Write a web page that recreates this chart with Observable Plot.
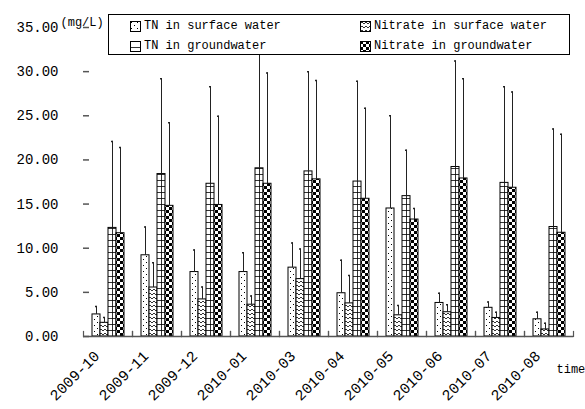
<!DOCTYPE html>
<html><head><meta charset="utf-8">
<script src="https://cdn.jsdelivr.net/npm/d3@7"></script>
<script src="https://cdn.jsdelivr.net/npm/@observablehq/plot@0.6"></script>
<style>
body{margin:0;background:#fff;}
#wrap{position:relative;width:585px;height:409px;font-family:"Liberation Mono",monospace;}
#legend{position:absolute;left:108px;top:14px;width:460px;height:39px;border:1px solid #000;background:#fff;font-size:12px;color:#000;}
#legend .item{position:absolute;display:flex;align-items:center;height:14px;}
#legend .item svg{margin-right:3px;}
</style></head><body>
<svg width="0" height="0" style="position:absolute">
 <defs>
  <pattern id="p0" width="6" height="6" patternUnits="userSpaceOnUse">
   <rect width="6" height="6" fill="#fff"/>
   <rect x="1" y="1" width="1" height="1" fill="#000"/>
   <rect x="4" y="4" width="1" height="1" fill="#000"/>
  </pattern>
  <pattern id="p1" width="4" height="4" patternUnits="userSpaceOnUse">
   <rect width="4" height="4" fill="#fff"/>
   <path d="M0,3 L2,1 L4,3" fill="none" stroke="#000" stroke-width="0.8"/>
  </pattern>
  <pattern id="p2" width="9" height="6" patternUnits="userSpaceOnUse">
   <rect width="9" height="6" fill="#fff"/>
   <line x1="0" x2="9" y1="0.5" y2="0.5" stroke="#000" stroke-width="0.8"/>
  </pattern>
  <pattern id="p3" width="6" height="6" patternUnits="userSpaceOnUse">
   <rect width="6" height="6" fill="#fff"/>
   <rect x="0" y="0" width="3" height="3" fill="#000"/>
   <rect x="3" y="3" width="3" height="3" fill="#000"/>
  </pattern>
 </defs>
</svg>
<div id="wrap"></div>
<script>
const dates = ["2009-10","2009-11","2009-12","2010-01","2010-03","2010-04","2010-05","2010-06","2010-07","2010-08"];
const seriesNames = ["TN in surface water","Nitrate in surface water","TN in groundwater","Nitrate in groundwater"];
const patternIds = ["p0","p1","p2","p3"];
const tnSurface     = [2.5, 9.2, 7.3, 7.3, 7.8, 4.9, 14.5, 3.8, 3.25, 1.95];
const tnSurfaceHi   = [3.4, 12.4, 9.8, 9.5, 10.6, 8.65, 25.0, 4.9, 3.9, 2.75];
const nitSurface    = [1.55, 5.55, 4.2, 3.6, 6.5, 3.75, 2.4, 2.75, 2.1, 0.8];
const nitSurfaceHi  = [2.15, 8.35, 5.6, 4.6, 9.9, 6.9, 3.5, 3.6, 2.75, 1.5];
const tnGround      = [12.3, 18.4, 17.3, 19.05, 18.7, 17.55, 15.9, 19.2, 17.4, 12.4];
const tnGroundHi    = [22.1, 29.2, 28.3, 33.5, 30.0, 28.9, 21.1, 31.2, 28.3, 23.5];
const nitGround     = [11.7, 14.8, 14.9, 17.3, 17.8, 15.6, 13.25, 17.9, 16.85, 11.75];
const nitGroundHi   = [21.4, 24.2, 24.95, 29.85, 29.0, 25.85, 14.5, 29.2, 27.7, 22.9];
const yTicks = [0, 5, 10, 15, 20, 25, 30, 35];
const unitLabel = "(mg/L)";
const timeLabel = "time";

const values = [tnSurface, nitSurface, tnGround, nitGround];
const highs = [tnSurfaceHi, nitSurfaceHi, tnGroundHi, nitGroundHi];
const rows = [];
dates.forEach((d, i) => seriesNames.forEach((s, k) => rows.push({date: d, series: s, value: values[k][i], hi: highs[k][i]})));

const barMarks = seriesNames.map((s, k) => Plot.barY(rows.filter(r => r.series === s), {
  fx: "date", x: "series", y: "value", fill: `url(#${patternIds[k]})`, stroke: "#000", strokeWidth: 1
}));

const chart = Plot.plot({
  width: 585, height: 409,
  marginLeft: 80, marginRight: 10, marginTop: 27, marginBottom: 73,
  style: {fontFamily: "Liberation Mono, monospace", fontSize: "14px", color: "#000", background: "#fff"},
  fx: {domain: dates, padding: 0, label: null},
  x: {domain: seriesNames, paddingInner: 0, paddingOuter: 0.75, axis: null},
  y: {domain: [0, 35]},
  marks: [
    ...barMarks,
    Plot.ruleX(rows.filter(r => r.series === seriesNames[2]), {fx: "date", x: "series", y1: 0, y2: "value", stroke: "#000", strokeWidth: 0.8}),
    Plot.ruleX(rows, {fx: "date", x: "series", y1: "value", y2: "hi", stroke: "#222", strokeWidth: 1}),
    Plot.tickY(rows, {fx: "date", x: "series", y: "hi", insetLeft: 3, insetRight: 3, stroke: "#222", strokeWidth: 1.5}),
    Plot.ruleY([0], {stroke: "#555", strokeWidth: 1.5}),
    Plot.frame({anchor: "left", insetTop: 304, stroke: "#555", strokeWidth: 1.2}),
    Plot.frame({anchor: "right", insetTop: 304, stroke: "#555", strokeWidth: 1.2}),
    Plot.axisY({ticks: yTicks, tickFormat: d3.format(".2f"), tickSize: -6, tickPadding: 31, line: true, stroke: "#555", strokeWidth: 1.5, label: null, fontSize: 14}),
    Plot.axisFx({anchor: "bottom", tickRotate: -45, tickSize: 0, tickPadding: 17, dx: -11, label: null, fontSize: 15}),
    Plot.text([unitLabel], {fx: () => dates[0], frameAnchor: "top-left", dx: -23, dy: -10, textAnchor: "start", fontSize: 12}),
    Plot.text([timeLabel], {fx: () => dates[dates.length - 1], frameAnchor: "bottom-right", dx: -17, dy: 36, textAnchor: "start", fontSize: 12})
  ]
});
const wrap = document.getElementById("wrap");
wrap.appendChild(chart);

const legend = document.createElement("div");
legend.id = "legend";
const legendPos = [[21, 4], [251, 4], [21, 24], [251, 24]];
const legendOrder = [0, 1, 2, 3];
legendOrder.forEach((k, j) => {
  const item = document.createElement("div");
  item.className = "item";
  item.style.left = legendPos[j][0] + "px";
  item.style.top = legendPos[j][1] + "px";
  const sw = document.createElementNS("http://www.w3.org/2000/svg", "svg");
  sw.setAttribute("width", 11); sw.setAttribute("height", 11);
  const r = document.createElementNS("http://www.w3.org/2000/svg", "rect");
  r.setAttribute("x", 0.5); r.setAttribute("y", 0.5); r.setAttribute("width", 10); r.setAttribute("height", 10);
  r.setAttribute("fill", `url(#${patternIds[k]})`); r.setAttribute("stroke", "#000");
  sw.appendChild(r);
  const t = document.createElement("span");
  t.textContent = seriesNames[k];
  item.appendChild(sw); item.appendChild(t);
  legend.appendChild(item);
});
wrap.appendChild(legend);
</script>
</body></html>
